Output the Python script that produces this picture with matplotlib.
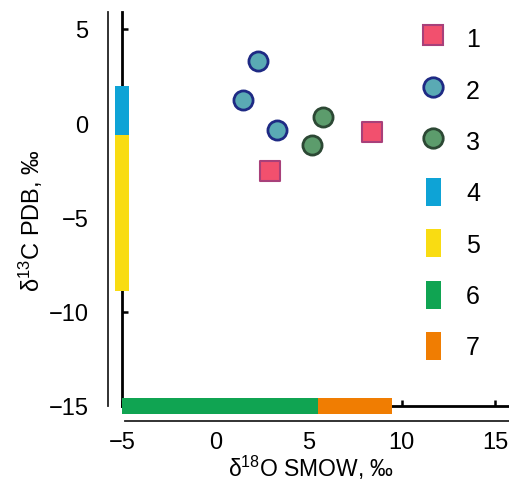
import matplotlib
matplotlib.use("Agg")
import matplotlib.pyplot as plt
from matplotlib.lines import Line2D
from matplotlib.patches import Patch

plt.rcParams['font.family'] = ['Liberation Sans', 'DejaVu Sans']
plt.rcParams['mathtext.fontset'] = 'custom'
plt.rcParams['mathtext.rm'] = 'Liberation Sans'
plt.rcParams['mathtext.it'] = 'Liberation Sans:italic'
plt.rcParams['axes.unicode_minus'] = True

# Data
g1_x = [2.94, 8.42]
g1_y = [-2.52, -0.45]
g2_x = [2.31, 1.47, 3.29]
g2_y = [3.32, 1.23, -0.36]
g3_x = [5.79, 5.17]
g3_y = [0.32, -1.15]
# ranges on d13C axis (series 4, 5)
r4 = (-0.6, 2.0)
r5 = (-8.9, -0.6)
# ranges on d18O axis (series 6, 7)
r6 = (-5.0, 5.5)
r7 = (5.5, 9.5)
xticks = [-5, 0, 5, 10, 15]
yticks = [5, 0, -5, -10, -15]
labels = ['1', '2', '3', '4', '5', '6', '7']

c1f, c1e = '#f2506e', '#a8407a'
c2f, c2e = '#5aaab4', '#1e2a84'
c3f, c3e = '#5c9c6c', '#2c4834'
c4, c5, c6, c7 = '#0ea3d6', '#f9dc12', '#10a452', '#f07d02'

fig = plt.figure(figsize=(5.10, 4.85), dpi=100)
W, H = 510, 485
ax = fig.add_axes([122 / W, 1 - 407 / H, 388 / W, 394 / H])
ax.set_xlim(-5, 15.8)
ax.set_ylim(-15, 5.9)

for s in ['top', 'right']:
    ax.spines[s].set_visible(False)
for s in ['left', 'bottom']:
    ax.spines[s].set_linewidth(2.0)

ax.set_xticks(xticks)
ax.set_yticks(yticks)
ax.tick_params(direction='in', length=4.5, width=1.8, labelsize=17)
ax.tick_params(axis='x', pad=18)
ax.tick_params(axis='y', pad=24)

# outer decorative lines
ax.add_line(Line2D([-14 / 388, -14 / 388], [0.0, 1.0], transform=ax.transAxes,
                   color='#222222', lw=1.3, clip_on=False))
ax.add_line(Line2D([3 / 388, 1.0], [-15 / 394, -15 / 394], transform=ax.transAxes,
                   color='#222222', lw=1.3, clip_on=False))

# range bars
bw_x = 0.8
bh_y = 0.8
ax.bar(-5, r4[1] - r4[0], bottom=r4[0], width=bw_x, color=c4, clip_on=False, zorder=3)
ax.bar(-5, r5[1] - r5[0], bottom=r5[0], width=bw_x, color=c5, clip_on=False, zorder=3)
ax.barh(-15, r6[1] - r6[0], left=r6[0], height=bh_y, color=c6, clip_on=False, zorder=3)
ax.barh(-15, r7[1] - r7[0], left=r7[0], height=bh_y, color=c7, clip_on=False, zorder=3)

ms = 190
ax.scatter(g1_x, g1_y, marker='s', s=ms, facecolor=c1f, edgecolor=c1e, linewidth=1.5, zorder=4)
ax.scatter(g2_x, g2_y, marker='o', s=ms, facecolor=c2f, edgecolor=c2e, linewidth=2.0, zorder=4)
ax.scatter(g3_x, g3_y, marker='o', s=ms, facecolor=c3f, edgecolor=c3e, linewidth=2.0, zorder=4)

ax.set_xlabel(r'δ$^{18}$O SMOW, ‰', fontsize=16.5)
ax.set_ylabel(r'δ$^{13}$C PDB, ‰', fontsize=17)
ax.xaxis.set_label_coords(189 / 388, -47 / 394)
ax.yaxis.set_label_coords(-77 / 388, 186 / 394)

handles = [
    Line2D([], [], marker='s', ls='none', markersize=14, markerfacecolor=c1f, markeredgecolor=c1e, markeredgewidth=1.5),
    Line2D([], [], marker='o', ls='none', markersize=14, markerfacecolor=c2f, markeredgecolor=c2e, markeredgewidth=2.0),
    Line2D([], [], marker='o', ls='none', markersize=14, markerfacecolor=c3f, markeredgecolor=c3e, markeredgewidth=2.0),
    Patch(facecolor=c4), Patch(facecolor=c5), Patch(facecolor=c6), Patch(facecolor=c7),
]
fig.legend(handles, labels, loc='upper left', bbox_to_anchor=(426 / W, 1 - 25 / H),
           frameon=False, fontsize=18, handlelength=0.6, handleheight=1.35,
           handletextpad=1.0, labelspacing=0.93, borderpad=0, borderaxespad=0)

fig.savefig('out.png', dpi=100)
